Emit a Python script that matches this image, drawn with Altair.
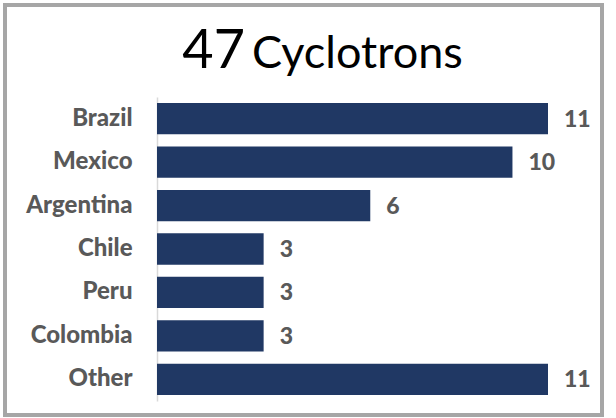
import altair as alt
import pandas as pd

countries = ["Brazil", "Mexico", "Argentina", "Chile", "Peru", "Colombia", "Other"]
counts = [11, 10, 6, 3, 3, 3, 11]
title_number = "47"
title_word = "Cyclotrons"

df = pd.DataFrame({"country": countries, "count": counts})

FONT = "Lato"
BAR = "#203864"
GRAY = "#595959"

W, H = 391, 304

y_enc = alt.Y("country:N", sort=countries, title=None,
              scale=alt.Scale(paddingInner=0.28, paddingOuter=0.14),
              axis=alt.Axis(labelFont=FONT, labelFontSize=24, labelFontWeight=900,
                            labelColor=GRAY, labelPadding=25, ticks=False,
                            domainColor="#d9d9d9", domainWidth=1.5, grid=False))
x_enc = alt.X("count:Q", title=None, scale=alt.Scale(domain=[0, 11], nice=False),
              axis=None)

bars = alt.Chart(df).mark_bar(color=BAR, cornerRadius=0).encode(x=x_enc, y=y_enc)

labels = alt.Chart(df).mark_text(align="left", baseline="middle", dx=16, dy=1,
                                 font=FONT, fontSize=23, fontWeight=900,
                                 color=GRAY).encode(x=x_enc, y=y_enc, text="count:Q")

border = alt.Chart(pd.DataFrame({"a": [0]})).mark_rect(
    fill=None, stroke="#a6a6a6", strokeWidth=4, clip=False
).encode(x=alt.value(-152), x2=alt.value(445), y=alt.value(-92), y2=alt.value(318))

title_num = alt.Chart(pd.DataFrame({"t": [title_number]})).mark_text(
    align="right", baseline="alphabetic", font=FONT, fontSize=54, color="#000000"
).encode(x=alt.value(88), y=alt.value(-29), text="t:N")

title_txt = alt.Chart(pd.DataFrame({"t": [title_word]})).mark_text(
    align="left", baseline="alphabetic", font=FONT, fontSize=45, color="#000000"
).encode(x=alt.value(95), y=alt.value(-29), text="t:N")

chart = alt.layer(bars, labels, border, title_num, title_txt).properties(
    width=W, height=H,
    padding={"left": 157, "top": 97, "right": 68, "bottom": 17},
    autosize=alt.AutoSizeParams(type="none"),
    background="white",
).configure_view(stroke=None)

chart.save("out.html", embed_options={"renderer": "svg", "actions": False})
